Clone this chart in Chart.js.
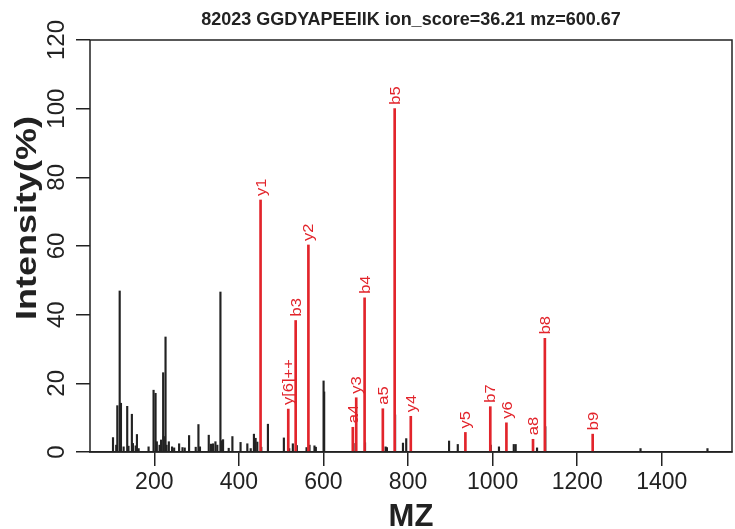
<!DOCTYPE html>
<html><head><meta charset="utf-8">
<script src="https://cdn.jsdelivr.net/npm/chart.js@4.4.1/dist/chart.umd.min.js"></script>
<style>html,body{margin:0;padding:0;background:#fff;}canvas{display:block;}</style>
</head><body>
<canvas id="c" width="735" height="529"></canvas>
<script>
const titleText = '82023 GGDYAPEEIIK ion_score=36.21 mz=600.67';
const xTitle = 'MZ';
const yTitle = 'Intensity(%)';
const xTicks = [200, 400, 600, 800, 1000, 1200, 1400];
const yTicks = [0, 20, 40, 60, 80, 100, 120];
const xRange = [48, 1566];
const yRange = [0, 120];

const ionLabels = ['y1','y[6]++','b3','y2','a4','y3','b4','a5','b5','y4','y5','b7','y6','a8','b8','b9'];
const ionMz = [451.3, 516.8, 534.3, 564.4, 669.4, 677.5, 697.3, 740.4, 768.4, 806.5, 935.6, 994.5, 1032.6, 1095.5, 1123.5, 1236.6];
const ionIntensity = [73.4, 12.5, 38.3, 60.3, 7.2, 15.8, 44.9, 12.6, 100, 10.4, 5.7, 13.2, 8.5, 3.7, 33.1, 5.2];

const peakMz = [102.4,110.0,112.6,118.2,121.2,127.5,136.0,139.0,147.0,149.5,156.0,159.0,163.0,186.5,198.3,203.0,206.0,212.5,216.0,221.0,222.6,226.6,229.0,234.4,242.0,247.0,258.7,266.7,272.0,282.3,298.0,304.4,308.0,328.8,334.0,339.0,344.6,349.0,356.4,360.0,362.6,376.0,384.7,404.0,420.0,428.0,435.6,439.6,443.6,453.0,468.7,506.4,519.0,527.6,537.0,560.0,567.0,578.8,582.0,600.3,601.7,671.0,698.3,747.0,750.0,769.4,788.0,795.7,897.0,917.6,995.5,1015.0,1050.0,1054.5,1105.0,1124.5,1349.7,1508.0];
const peakIntensity = [4.2,2.0,13.5,46.9,14.2,1.5,13.3,1.7,11.0,2.5,1.8,5.1,1.0,1.5,18.0,17.1,3.0,2.0,3.5,23.1,4.5,33.5,2.0,3.0,1.5,1.2,2.4,1.3,1.2,4.8,1.4,8.0,1.5,4.9,2.3,2.4,3.0,2.0,46.6,3.3,3.6,1.1,4.5,2.8,2.4,1.0,5.2,4.0,2.9,1.4,8.1,4.1,1.0,2.4,1.9,1.3,2.0,1.8,1.4,20.7,17.5,2.5,2.7,1.5,1.3,10.8,2.6,3.9,3.2,2.2,2.0,1.5,2.2,2.2,1.2,7.4,1.0,1.0];

const FAM = '"Liberation Sans", Arial, Helvetica, sans-serif';
const RED = '#e2242b';
const INK = '#222222';

const decor = {
  id: 'decor',
  afterDatasetsDraw(chart) {
    const {ctx, chartArea: a} = chart;
    ctx.save();
    const meta = chart.getDatasetMeta(0);
    ctx.fillStyle = RED;
    ctx.font = '16.5px ' + FAM;
    ctx.textAlign = 'left';
    ctx.textBaseline = 'middle';
    meta.data.forEach((el, i) => {
      ctx.save();
      ctx.translate(el.x + 1, el.y - 4);
      ctx.rotate(-Math.PI / 2);
      ctx.scale(1, 0.9);
      ctx.fillText(ionLabels[i], 0, 0);
      ctx.restore();
    });
    ctx.strokeStyle = INK;
    ctx.lineWidth = 1.5;
    ctx.strokeRect(a.left, a.top, a.right - a.left, a.bottom - a.top);
    ctx.fillStyle = INK;
    ctx.font = 'bold 18px ' + FAM;
    ctx.textAlign = 'center';
    ctx.textBaseline = 'middle';
    ctx.fillText(titleText, (a.left + a.right) / 2, 20);
    ctx.save();
    ctx.font = 'bold 36px ' + FAM;
    ctx.translate(28, 218);
    ctx.rotate(-Math.PI / 2);
    ctx.scale(1, 0.82);
    ctx.fillText(yTitle, 0, 0);
    ctx.restore();
    ctx.restore();
  }
};

new Chart(document.getElementById('c'), {
  type: 'bar',
  data: {
    datasets: [
      {
        data: ionMz.map((x, i) => ({x: x, y: ionIntensity[i]})),
        backgroundColor: RED,
        barThickness: 2,
        grouped: false,
        borderWidth: 0
      },
      {
        data: peakMz.map((x, i) => ({x: x, y: peakIntensity[i]})),
        backgroundColor: INK,
        barThickness: 1.5,
        grouped: false,
        borderWidth: 0
      }
    ]
  },
  options: {
    responsive: false,
    animation: false,
    devicePixelRatio: 1,
    layout: {padding: {top: 40, right: 3, left: 0, bottom: 0}},
    plugins: {legend: {display: false}, tooltip: {enabled: false}, title: {display: false}},
    scales: {
      x: {
        type: 'linear',
        offset: false,
        min: xRange[0], max: xRange[1],
        afterBuildTicks: s => { s.ticks = xTicks.map(v => ({value: v})); },
        afterFit: s => { s.height = 77; },
        grid: {offset: false, drawOnChartArea: false, drawTicks: true, tickLength: 14, color: INK, lineWidth: 1.5},
        border: {display: true, color: INK, width: 1.5},
        ticks: {maxRotation: 0, minRotation: 0, padding: 3, color: INK, font: {size: 23, family: FAM}, callback: v => String(v)},
        title: {display: true, text: xTitle, color: INK, font: {size: 31, weight: 'bold', family: FAM, lineHeight: 1}, padding: {top: 0, bottom: -4}}
      },
      y: {
        min: yRange[0], max: yRange[1],
        afterBuildTicks: s => { s.ticks = yTicks.map(v => ({value: v})); },
        afterFit: s => { s.width = 90; },
        grid: {drawOnChartArea: false, drawTicks: true, tickLength: 14, color: INK, lineWidth: 1.5},
        border: {display: false},
        ticks: {minRotation: 90, maxRotation: 90, crossAlign: 'center', padding: -1, color: INK, font: {size: 24, family: FAM}},
        title: {display: false}
      }
    }
  },
  plugins: [decor]
});
</script>
</body></html>
